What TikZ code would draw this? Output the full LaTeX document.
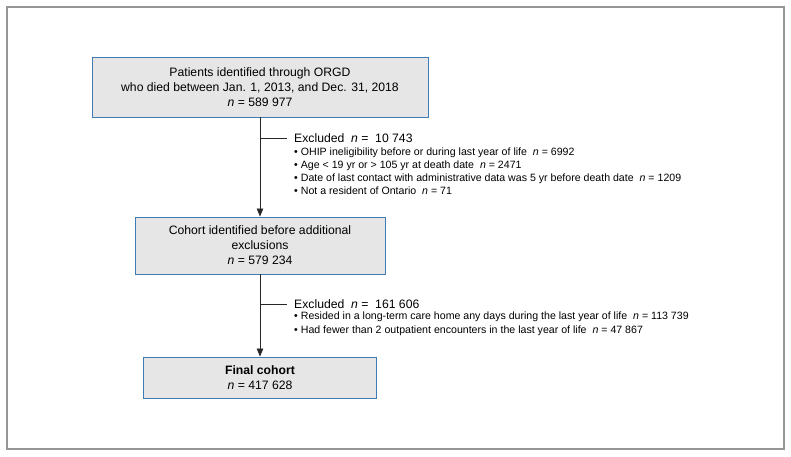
\documentclass[tikz,border=0pt]{standalone}
\usepackage{fontspec}
\setmainfont{Liberation Sans}
\usetikzlibrary{arrows.meta,positioning}
\definecolor{boxblue}{RGB}{62,122,182}
\definecolor{boxgray}{RGB}{230,230,230}
\definecolor{framegray}{RGB}{150,150,150}

\begin{document}
\begin{tikzpicture}[x=1pt,y=1pt,
  flowbox/.style={draw=boxblue,fill=boxgray,line width=0.9pt,align=center,inner sep=2pt,font=\fontsize{12.2}{15}\selectfont},
  exhead/.style={anchor=west,inner sep=2pt,font=\fontsize{12.2}{14}\selectfont},
  exlist/.style={anchor=north west,align=left,inner sep=2pt,font=\fontsize{10.6}{12.9}\selectfont},
  flowline/.style={line width=0.8pt,black!85}]
\useasboundingbox (0,0) rectangle (791,-456);
\draw[framegray,line width=1.3pt] (7,-7) rectangle (784,-449);
\node[flowbox,minimum width=336pt,minimum height=60pt] (orgd) at (260,-87) {Patients identified through ORGD\\who died between Jan. 1, 2013, and Dec. 31, 2018\\\textit{n} = 589 977};
\node[flowbox,minimum width=250pt,minimum height=57pt] (cohort) at (260,-245.5) {Cohort identified before additional\\exclusions\\\textit{n} = 579 234};
\node[flowbox,minimum width=233pt,minimum height=41pt] (final) at (260,-377.5) {\textbf{Final cohort}\\\textit{n} = 417 628};
\node[exhead] (ex1) at (292,-138) {Excluded\ \ \textit{n} =\ \ 10 743};
\node[exlist] (ex1list) at ([yshift=-1pt]ex1.south west) {\textbullet\ OHIP ineligibility before or during last year of life\ \ \textit{n} = 6992\\
\textbullet\ Age < 19 yr or > 105 yr at death date\ \ \textit{n} = 2471\\
\textbullet\ Date of last contact with administrative data was 5 yr before death date\ \ \textit{n} = 1209\\
\textbullet\ Not a resident of Ontario\ \ \textit{n} = 71};
\node[exhead] (ex2) at (292,-304) {Excluded\ \ \textit{n} =\ \ 161 606};
\node[exlist,font=\fontsize{10.6}{14}\selectfont] (ex2list) at ([yshift=1pt]ex2.south west) {\textbullet\ Resided in a long-term care home any days during the last year of life\ \ \textit{n} = 113 739\\
\textbullet\ Had fewer than 2 outpatient encounters in the last year of life\ \ \textit{n} = 47 867};
\coordinate (j1) at (orgd.south |- ex1.west);
\coordinate (j2) at (cohort.south |- ex2.west);
\draw[flowline,-{Triangle[length=8pt,width=6.5pt]}] (orgd) -- (cohort);
\draw[flowline,-{Triangle[length=8pt,width=6.5pt]}] (cohort) -- (final);
\draw[flowline,shorten >=5pt] (j1) -- (ex1.west);
\draw[flowline,shorten >=5pt] (j2) -- (ex2.west);
\end{tikzpicture}
\end{document}
